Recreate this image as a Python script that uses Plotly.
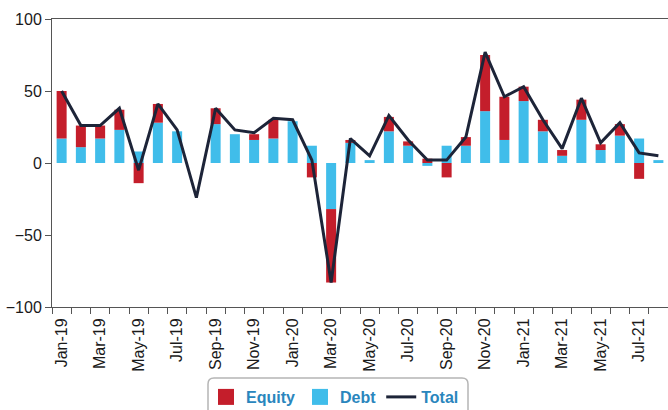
import plotly.graph_objects as go

months = ["Jan-19", "Feb-19", "Mar-19", "Apr-19", "May-19", "Jun-19", "Jul-19", "Aug-19",
          "Sep-19", "Oct-19", "Nov-19", "Dec-19", "Jan-20", "Feb-20", "Mar-20", "Apr-20",
          "May-20", "Jun-20", "Jul-20", "Aug-20", "Sep-20", "Oct-20", "Nov-20", "Dec-20",
          "Jan-21", "Feb-21", "Mar-21", "Apr-21", "May-21", "Jun-21", "Jul-21", "Aug-21"]
equity = [33, 15, 9, 14, -14, 13, 0, 0, 11, 0, 4, 13, 0, -10, -51, 2,
          0, 10, 3, 3, -10, 6, 39, 30, 10, 8, 4, 14, 4, 8, -11, 0]
debt = [17, 11, 17, 23, 8, 28, 22, 0, 27, 20, 16, 17, 29, 12, -32, 14,
        2, 22, 12, -2, 12, 12, 36, 16, 43, 22, 5, 30, 9, 19, 17, 2]
total = [50, 26, 26, 38, -5, 41, 23, -24, 38, 23, 21, 31, 30, 2, -83, 17,
         5, 33, 16, 2, 2, 18, 77, 46, 53, 30, 10, 45, 14, 28, 7, 5]
tick_labels = [m if i % 2 == 0 else "" for i, m in enumerate(months)]
y_ticks = [-100, -50, 0, 50, 100]

FONT = "Arial, Liberation Sans, sans-serif"
W, H = 668, 410
ML, MR, MT, MB = 52, 0, 19, 103
PW, PH = W - ML - MR, H - MT - MB
RED, BLUE, NAVY = "#c41e2b", "#40bdea", "#1d2438"

fig = go.Figure()
# debt drawn first so it sits next to zero, equity stacked beyond it
fig.add_trace(go.Bar(x=months, y=debt, name="Debt", marker_color=BLUE,
                     marker_line_width=0, showlegend=False))
fig.add_trace(go.Bar(x=months, y=equity, name="Equity", marker_color=RED,
                     marker_line_width=0, showlegend=False))
fig.add_trace(go.Scatter(x=months, y=total, name="Total", mode="lines",
                         line=dict(color=NAVY, width=3), showlegend=False))
# legend entries
fig.add_trace(go.Scatter(x=[None], y=[None], name="Equity", mode="markers",
                         marker=dict(symbol="square", size=16, color=RED), legendrank=1))
fig.add_trace(go.Scatter(x=[None], y=[None], name="Debt", mode="markers",
                         marker=dict(symbol="square", size=16, color=BLUE), legendrank=2))
fig.add_trace(go.Scatter(x=[None], y=[None], name="Total", mode="lines",
                         line=dict(color=NAVY, width=3), legendrank=3))


def px2paper(px, py):
    return (px - ML) / PW, (H - MB - py) / PH


x0, yt = px2paper(208, 378)
x1, yb = px2paper(468, 416)
rx, ry = 6 / PW, 6 / PH
path = (f"M {x0},{yb} L {x0},{yt - ry} Q {x0},{yt} {x0 + rx},{yt} "
        f"L {x1 - rx},{yt} Q {x1},{yt} {x1},{yt - ry} L {x1},{yb}")
lx, ly = px2paper(206, 380)

fig.update_layout(
    width=W, height=H,
    margin=dict(l=ML, r=MR, t=MT, b=MB, pad=0, autoexpand=False),
    barmode="relative",
    bargap=0.48,
    plot_bgcolor="white", paper_bgcolor="white",
    font=dict(family=FONT, size=16, color="#1a1a1a"),
    showlegend=True,
    legend=dict(orientation="h", x=lx, y=ly, xanchor="left", yanchor="top",
                font=dict(family=FONT, size=16, color="#2a86bd", weight="bold"),
                bgcolor="rgba(0,0,0,0)", borderwidth=0, itemsizing="trace"),
    shapes=[dict(type="path", xref="paper", yref="paper", path=path,
                 line=dict(color="#b5b5b5", width=1.5), layer="above")],
)
fig.update_xaxes(type="category", tickmode="array", tickvals=months, ticktext=tick_labels,
                 tickangle=-90, tickson="boundaries", ticks="outside", ticklen=6,
                 ticklabelstandoff=4,
                 tickcolor="#555", showline=True, linecolor="#555", linewidth=1,
                 mirror=True, showgrid=False, zeroline=False, automargin=False,
                 tickfont=dict(family=FONT, size=16, color="#1a1a1a"))
fig.update_yaxes(range=[-100, 100], tickmode="array", tickvals=y_ticks,
                 ticks="outside", ticklen=6, tickcolor="#555", showline=True,
                 linecolor="#555", linewidth=1, showgrid=False, zeroline=False,
                 automargin=False,
                 tickfont=dict(family=FONT, size=16, color="#1a1a1a"))

fig.write_html("out.html", config={"displayModeBar": False},
               post_script="document.body.style.margin='0';document.body.style.overflow='hidden';")
